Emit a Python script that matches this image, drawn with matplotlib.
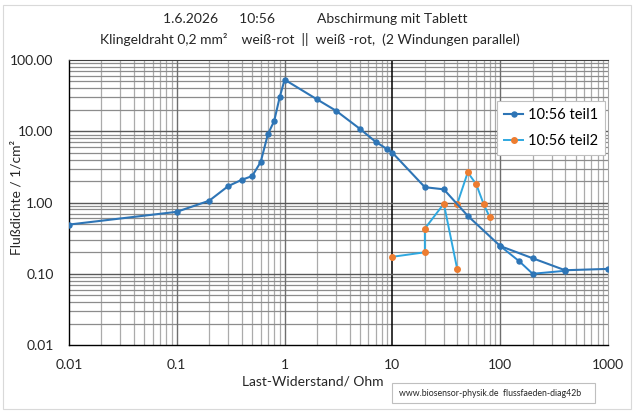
import numpy as np
import matplotlib
matplotlib.use('Agg')
import matplotlib.pyplot as plt
from matplotlib.patches import Rectangle
from matplotlib.ticker import FixedLocator, NullFormatter

plt.rcParams['font.family'] = ['Lato', 'DejaVu Sans']

# teil1 (main curve)
teil1_x = [0.01, 0.1, 0.2, 0.3, 0.4, 0.5, 0.6, 0.7, 0.8, 0.9, 1, 2, 3, 5, 7, 9, 10,
           20, 30, 50, 100, 200, 400, 1000]
teil1_y = [0.49, 0.74, 1.06, 1.7, 2.08, 2.35, 3.7, 9.1, 13.9, 29.9, 53, 28, 19.4, 10.8, 7.1, 5.57, 5.0,
           1.64, 1.53, 0.65, 0.245, 0.165, 0.112, 0.117]
# second branch of teil1 at high resistance
teil1b_x = [100, 150, 200, 400]
teil1b_y = [0.245, 0.15, 0.1, 0.11]
# teil2 (nan = gap in the line)
teil2_x = [10, 20, 20, 30, 40, np.nan, 40, 50, 60, 70, 80]
teil2_y = [0.173, 0.2, 0.43, 0.96, 0.115, np.nan, 0.96, 2.65, 1.8, 0.96, 0.62]

xticks = [0.01, 0.1, 1, 10, 100, 1000]
xticklabels = ['0.01', '0.1', '1', '10', '100', '1000']
yticks = [0.01, 0.1, 1, 10, 100]
yticklabels = ['0.01', '0.10', '1.00', '10.00', '100.00']

c1 = '#2E75B6'
c2 = '#2FA8E0'
corange = '#ED7D31'

fig = plt.figure(figsize=(6.4, 4.18), dpi=100)
ax = fig.add_axes([69/640, 73/418, 539/640, 285/418])
ax.set_xscale('log')
ax.set_yscale('log')
ax.set_xlim(0.01, 1000)
ax.set_ylim(0.01, 100)

# grid lines
minor_x = [m * 10.0**e for e in range(-2, 3) for m in range(2, 10)]
minor_y = [m * 10.0**e for e in range(-2, 2) for m in range(2, 10)]
for v in minor_x:
    ax.axvline(v, color='#ABABAB', lw=0.9, zorder=0)
for v in minor_y:
    ax.axhline(v, color='#8C8C8C', lw=0.9, zorder=0)
for v in [0.1, 1, 100]:
    ax.axvline(v, color='#6E6E6E', lw=1.0, zorder=0)
ax.axvline(10, color='black', lw=1.1, zorder=0)
for v in [0.1, 1, 10]:
    ax.axhline(v, color='#595959', lw=1.0, zorder=0)

ax.plot(teil1b_x, teil1b_y, '-o', color='#2A84CC', mfc=c1, mec=c1, ms=3.6, lw=1.4, zorder=3)
ax.plot(teil2_x, teil2_y, '-o', color=c2, mfc=corange, mec=corange, ms=4, lw=1.4, zorder=4,
        label='10:56 teil2')
ax.plot(teil1_x, teil1_y, '-o', color=c1, mfc=c1, mec=c1, ms=3.6, lw=1.5, zorder=5,
        label='10:56 teil1')

ax.xaxis.set_major_locator(FixedLocator(xticks))
ax.set_xticklabels(xticklabels)
ax.yaxis.set_major_locator(FixedLocator(yticks))
ax.set_yticklabels(yticklabels)
ax.xaxis.set_minor_formatter(NullFormatter())
ax.yaxis.set_minor_formatter(NullFormatter())
ax.tick_params(which='both', length=0, labelsize=10, colors='#262626')
ax.tick_params(axis='x', pad=10)
ax.tick_params(axis='y', pad=11)

for s in ['left', 'bottom']:
    ax.spines[s].set_color('black')
    ax.spines[s].set_linewidth(1.0)
ax.spines['top'].set_color('#404040')
ax.spines['right'].set_color('#A6A6A6')

h, l = ax.get_legend_handles_labels()
leg = ax.legend(h[::-1], l[::-1], loc='upper right', bbox_to_anchor=(605/640, 1 - 101/418),
                bbox_transform=fig.transFigure, fontsize=10.5, frameon=True, fancybox=False,
                edgecolor='#BFBFBF', framealpha=1, handlelength=1.3, handletextpad=0.3,
                borderpad=0.5, labelspacing=0.8, borderaxespad=0)
leg.get_frame().set_linewidth(0.8)

fig.text(315/640, 1 - 19/418, '1.6.2026      10:56            Abschirmung mit Tablett',
         ha='center', va='center', fontsize=10, color='#262626')
fig.text(310/640, 1 - 40/418,
         'Klingeldraht 0,2 mm\u00b2    wei\u00df-rot  ||  wei\u00df -rot,  (2 Windungen parallel)',
         ha='center', va='center', fontsize=10, color='#262626')
fig.text(313/640, 1 - 381/418, 'Last-Widerstand/ Ohm', ha='center', va='center',
         fontsize=10, color='#262626')
fig.text(17/640, 1 - 197/418, 'Flu\u00dfdichte / 1/cm\u00b2', ha='center', va='center',
         rotation=90, fontsize=10, color='#262626')

fig.patches.append(Rectangle((392/640, 1 - 403/418), 203/640, 20/418, transform=fig.transFigure,
                             fill=True, facecolor='white', edgecolor='#BFBFBF', lw=0.8))
fig.text(399/640, 1 - 393/418, 'www.biosensor-physik.de  flussfaeden-diag42b', ha='left',
         va='center', fontsize=6.3, color='#262626')

fig.patches.append(Rectangle((3/640, 1 - 409/418), 628/640, 404/418, transform=fig.transFigure,
                             fill=False, edgecolor='#D9D9D9', lw=0.8))

fig.savefig('out.png', dpi=100)
